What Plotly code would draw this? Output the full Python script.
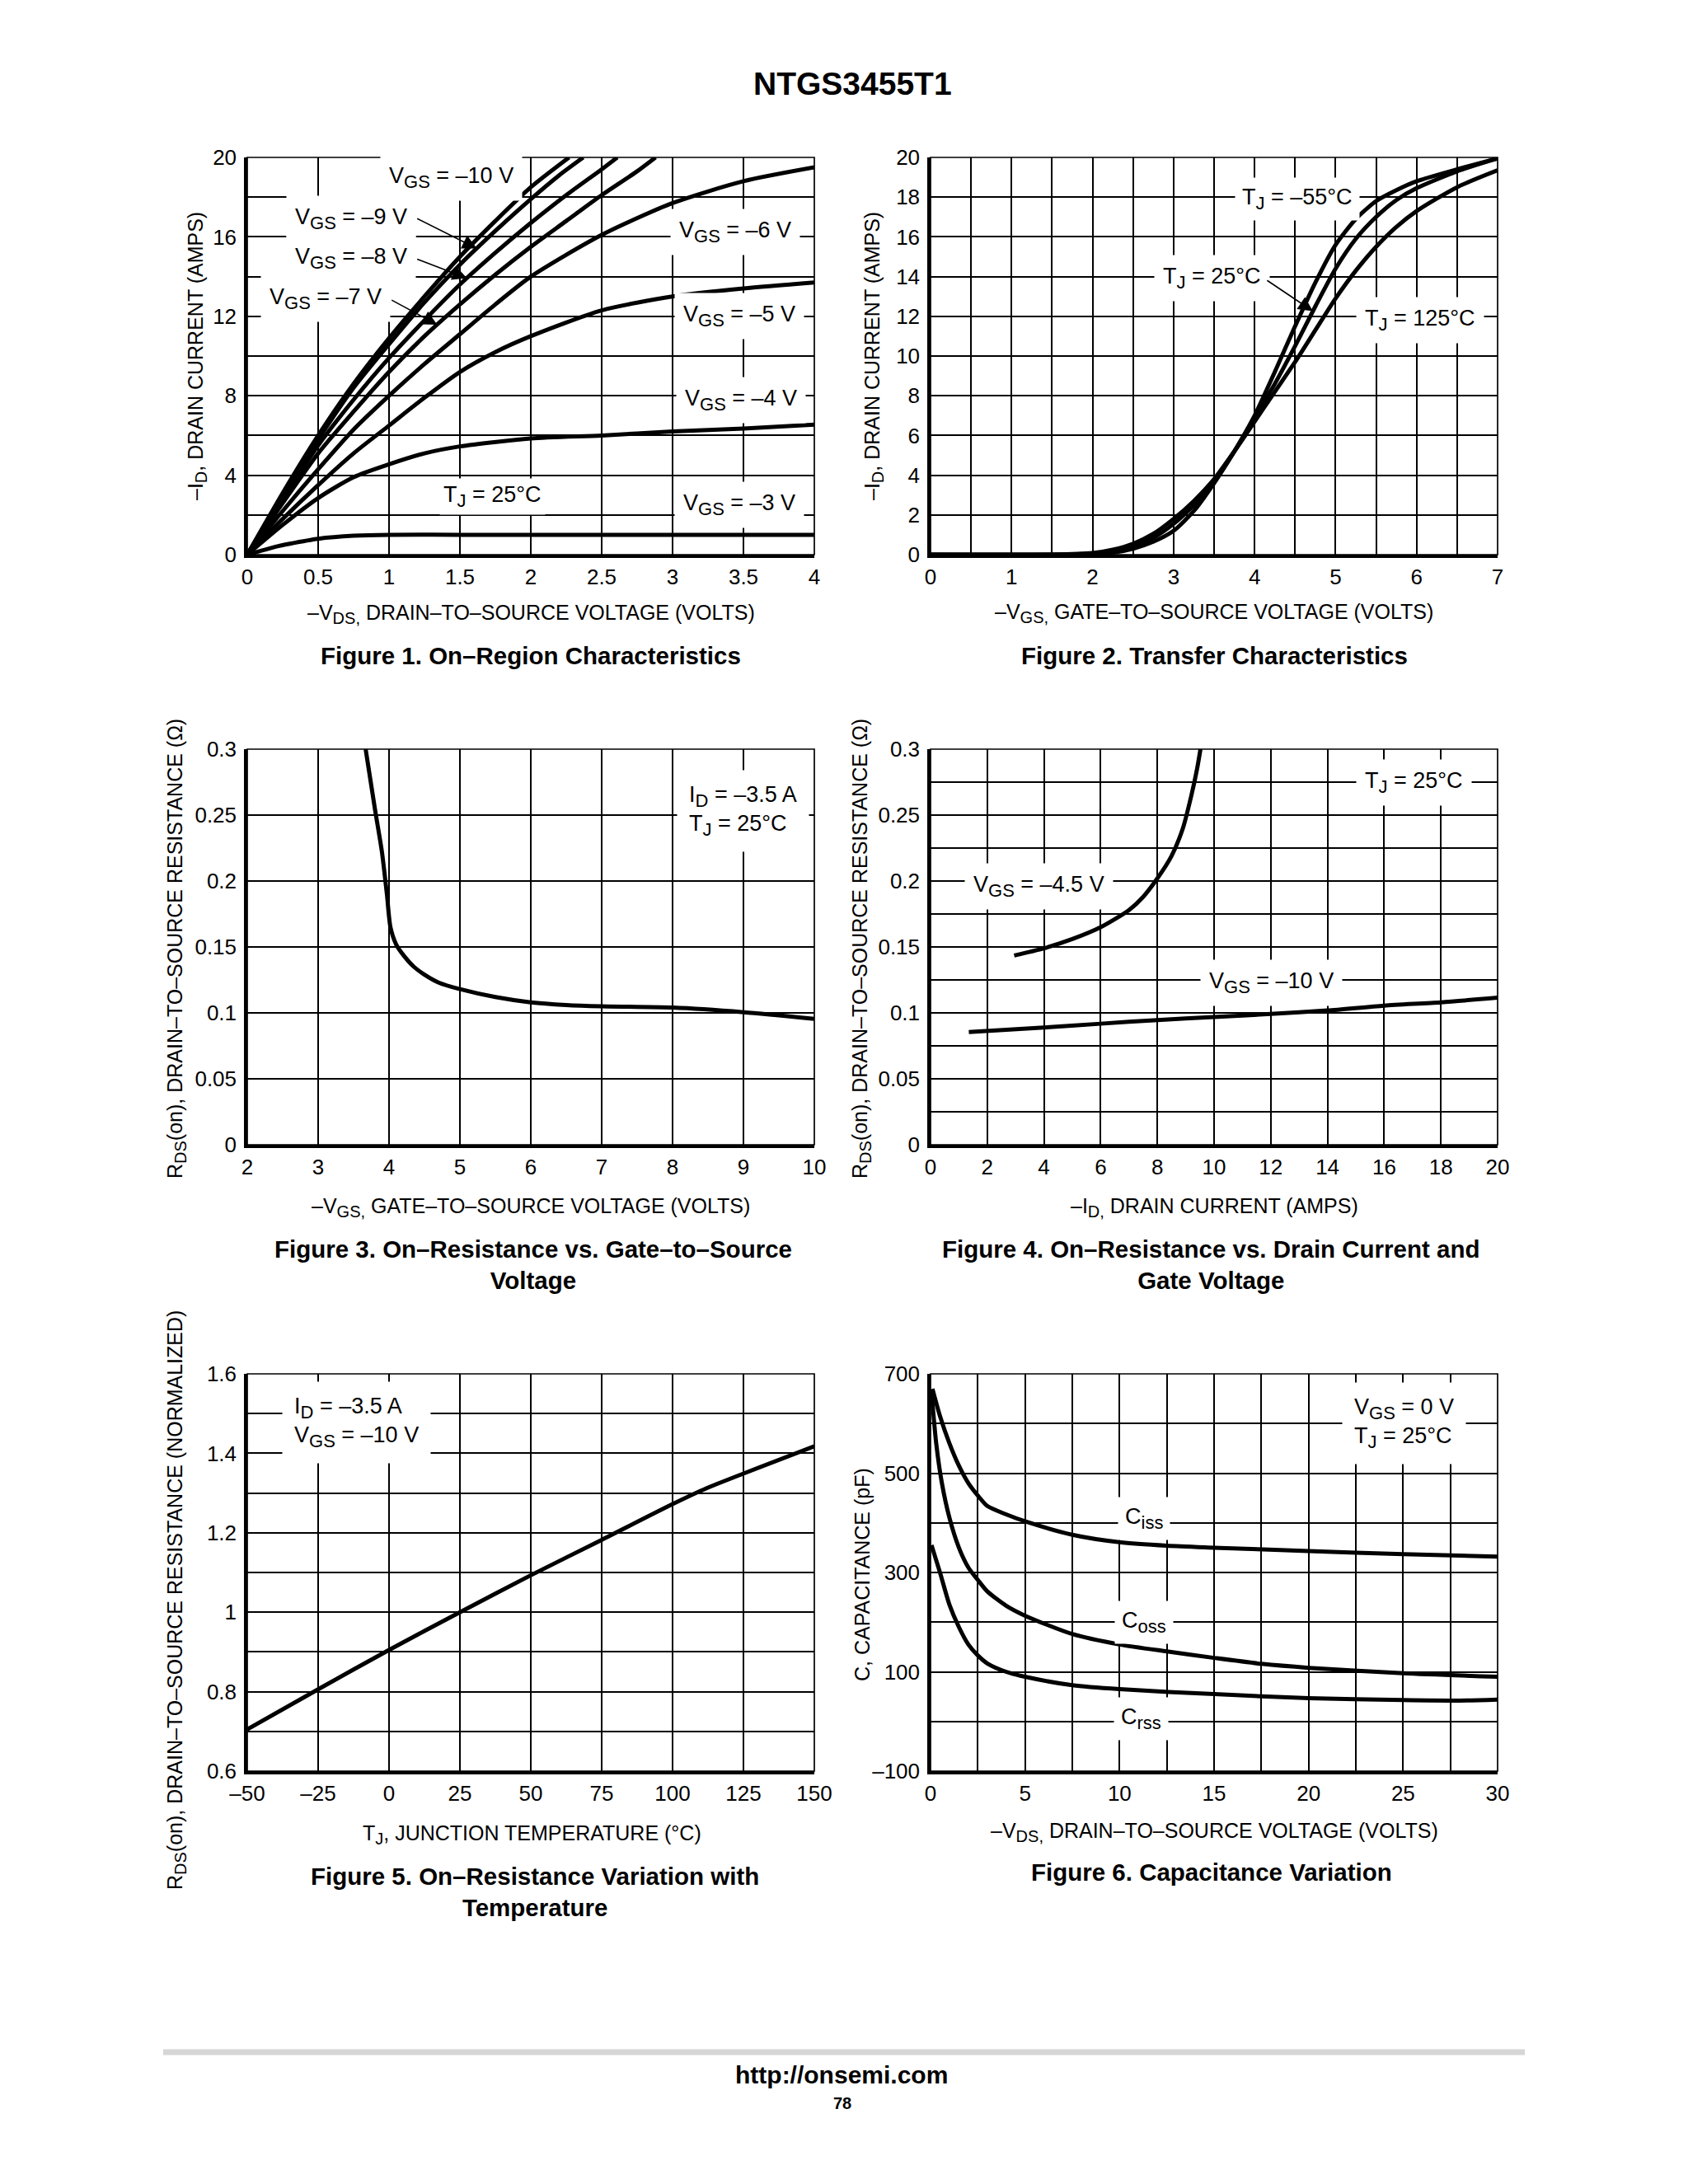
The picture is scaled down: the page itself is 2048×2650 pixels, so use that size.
import numpy as np
import plotly.graph_objects as go

W, H = 2048, 2650
FONT = "Liberation Sans, Arial, Helvetica, sans-serif"

# ---------------- Figure 1: On-Region Characteristics ----------------
f1_v_10 = [0, 0.25, 0.5, 0.75, 1.0, 1.25, 1.5, 1.75, 2.0, 2.27]
f1_i_10 = [0, 3.1, 6.0, 8.6, 10.9, 13.0, 15.0, 16.8, 18.5, 20.0]
f1_v_9 = [0, 0.25, 0.5, 0.75, 1.0, 1.25, 1.5, 1.75, 2.0, 2.2, 2.37]
f1_i_9 = [0, 3.0, 5.8, 8.4, 10.6, 12.7, 14.6, 16.3, 17.9, 19.1, 20.0]
f1_v_8 = [0, 0.25, 0.5, 0.75, 1.0, 1.25, 1.5, 1.75, 2.0, 2.25, 2.5, 2.61]
f1_i_8 = [0, 2.8, 5.5, 7.8, 9.9, 11.8, 13.6, 15.2, 16.7, 18.1, 19.4, 20.0]
f1_v_7 = [0, 0.25, 0.5, 0.75, 1.0, 1.25, 1.5, 1.75, 2.0, 2.25, 2.5, 2.75, 2.88]
f1_i_7 = [0, 2.6, 5.1, 7.2, 9.2, 11.0, 12.6, 14.1, 15.5, 16.8, 18.1, 19.3, 20.0]
f1_v_6 = [0, 0.25, 0.5, 0.75, 1.0, 1.25, 1.5, 1.75, 2.0, 2.5, 3.0, 3.5, 4.0]
f1_i_6 = [0, 2.2, 4.3, 6.3, 8.0, 9.6, 11.1, 12.6, 14.0, 16.1, 17.7, 18.8, 19.5]
f1_v_5 = [0, 0.25, 0.5, 0.75, 1.0, 1.25, 1.5, 1.75, 2.0, 2.5, 3.0, 3.5, 4.0]
f1_i_5 = [0, 1.8, 3.5, 5.1, 6.5, 7.9, 9.2, 10.2, 11.0, 12.3, 13.0, 13.4, 13.7]
f1_v_4 = [0, 0.25, 0.5, 0.75, 1.0, 1.25, 1.5, 2.0, 2.5, 3.0, 3.5, 4.0]
f1_i_4 = [0, 1.5, 2.85, 3.9, 4.55, 5.1, 5.45, 5.85, 6.0, 6.2, 6.35, 6.55]
f1_v_3 = [0, 0.1, 0.2, 0.3, 0.5, 0.75, 1.0, 1.5, 4.0]
f1_i_3 = [0, 0.2, 0.4, 0.55, 0.8, 0.95, 1.0, 1.0, 1.0]
f1_xtickvals = [0, 0.5, 1, 1.5, 2, 2.5, 3, 3.5, 4]
f1_xticktext = ["0", "0.5", "1", "1.5", "2", "2.5", "3", "3.5", "4"]
f1_ytickvals = [0, 2, 4, 6, 8, 10, 12, 14, 16, 18, 20]
f1_yticktext = ["0", "", "4", "", "8", "", "12", "", "16", "", "20"]

# ---------------- Figure 2: Transfer Characteristics ----------------
f2_vgs = [0, 1.5, 2.0, 2.25, 2.5, 2.75, 3.0, 3.25, 3.5, 3.75, 4.0, 4.25, 4.5,
          4.75, 5.0, 5.25, 5.5, 5.75, 6.0, 6.5, 7.0]
f2_id_m55 = [0, 0, 0.02, 0.1, 0.3, 0.65, 1.2, 2.2, 3.6, 5.2, 7.0, 9.2, 11.5,
             13.7, 15.6, 16.9, 17.8, 18.35, 18.8, 19.4, 19.95]
f2_id_25 = [0, 0, 0.05, 0.15, 0.4, 0.85, 1.55, 2.5, 3.7, 5.2, 6.9, 8.6, 10.5,
            12.5, 14.4, 15.9, 17.0, 17.85, 18.45, 19.3, 19.95]
f2_id_125 = [0, 0, 0.08, 0.25, 0.55, 1.05, 1.8, 2.7, 3.8, 5.2, 6.7, 8.2, 9.7,
             11.3, 12.9, 14.3, 15.5, 16.5, 17.3, 18.5, 19.35]
f2_xtickvals = [0, 0.5, 1, 1.5, 2, 2.5, 3, 3.5, 4, 4.5, 5, 5.5, 6, 6.5, 7]
f2_xticktext = ["0", "", "1", "", "2", "", "3", "", "4", "", "5", "", "6", "", "7"]
f2_ytickvals = [0, 2, 4, 6, 8, 10, 12, 14, 16, 18, 20]
f2_yticktext = ["0", "2", "4", "6", "8", "10", "12", "14", "16", "18", "20"]

# ---------------- Figure 3: On-Resistance vs Gate-to-Source Voltage ----------------
f3_vgs = [3.67, 3.8, 3.9, 3.97, 4.02, 4.1, 4.2, 4.35, 4.5, 4.7, 5.0, 5.5, 6.0,
          6.5, 7.0, 8.0, 9.0, 10.0]
f3_rds = [0.3, 0.255, 0.222, 0.19, 0.165, 0.152, 0.144, 0.135, 0.129, 0.123,
          0.118, 0.112, 0.108, 0.106, 0.105, 0.104, 0.1005, 0.0955]
f3_xtickvals = [2, 3, 4, 5, 6, 7, 8, 9, 10]
f3_xticktext = ["2", "3", "4", "5", "6", "7", "8", "9", "10"]
f3_ytickvals = [0, 0.05, 0.1, 0.15, 0.2, 0.25, 0.3]
f3_yticktext = ["0", "0.05", "0.1", "0.15", "0.2", "0.25", "0.3"]

# ---------------- Figure 4: On-Resistance vs Drain Current ----------------
f4_id_45 = [2.95, 4, 5, 6, 7, 7.5, 8, 8.5, 8.9, 9.2, 9.4, 9.52]
f4_r_45 = [0.1435, 0.149, 0.156, 0.165, 0.178, 0.188, 0.202, 0.219, 0.24,
           0.265, 0.285, 0.3]
f4_id_10 = [1.35, 4, 6, 8, 10, 12, 14, 16, 18, 20]
f4_r_10 = [0.0855, 0.0889, 0.0918, 0.0946, 0.0968, 0.0992, 0.1018, 0.1055,
           0.108, 0.1115]
f4_xtickvals = [0, 2, 4, 6, 8, 10, 12, 14, 16, 18, 20]
f4_xticktext = ["0", "2", "4", "6", "8", "10", "12", "14", "16", "18", "20"]
f4_ytickvals = [0, 0.025, 0.05, 0.075, 0.1, 0.125, 0.15, 0.175, 0.2, 0.225,
                0.25, 0.275, 0.3]
f4_yticktext = ["0", "", "0.05", "", "0.1", "", "0.15", "", "0.2", "", "0.25",
                "", "0.3"]

# ---------------- Figure 5: On-Resistance vs Temperature ----------------
f5_tj = [-50, -25, 0, 25, 50, 75, 100, 112, 125, 150]
f5_rn = [0.705, 0.806, 0.905, 1.0, 1.093, 1.182, 1.272, 1.312, 1.349, 1.418]
f5_xtickvals = [-50, -25, 0, 25, 50, 75, 100, 125, 150]
f5_xticktext = ["–50", "–25", "0", "25", "50", "75", "100", "125", "150"]
f5_ytickvals = [0.6, 0.7, 0.8, 0.9, 1.0, 1.1, 1.2, 1.3, 1.4, 1.5, 1.6]
f5_yticktext = ["0.6", "", "0.8", "", "1", "", "1.2", "", "1.4", "", "1.6"]

# ---------------- Figure 6: Capacitance Variation ----------------
f6_v_ciss = [0.1, 0.5, 1, 1.5, 2, 2.5, 3, 4, 5, 7.5, 10, 12.5, 15, 20, 25, 30]
f6_ciss = [670, 615, 560, 515, 480, 455, 434, 417, 403, 376, 361, 354, 350,
           343, 337, 332]
f6_v_coss = [0.05, 0.3, 0.6, 1, 1.5, 2, 2.5, 3, 4, 5, 7.5, 10, 12.5, 15, 17.5,
             20, 25, 30]
f6_coss = [665, 560, 480, 410, 350, 310, 285, 262, 233, 213, 176, 155, 141,
           128, 116, 108, 97, 90]
f6_v_crss = [0.05, 0.5, 1, 1.5, 2, 2.5, 3, 4, 5, 7.5, 10, 15, 20, 25, 28, 30]
f6_crss = [355, 300, 235, 190, 155, 133, 117, 100, 90, 73, 65, 55, 47, 43, 42,
           44]
f6_xtickvals = [0, 2.5, 5, 7.5, 10, 12.5, 15, 17.5, 20, 22.5, 25, 27.5, 30]
f6_xticktext = ["0", "", "5", "", "10", "", "15", "", "20", "", "25", "", "30"]
f6_ytickvals = [-100, 0, 100, 200, 300, 400, 500, 600, 700]
f6_yticktext = ["–100", "", "100", "", "300", "", "500", "", "700"]

# ---------------- layout geometry (pixels) ----------------
COLS = [(300, 988), (1129, 1817)]
ROWS = [(191, 673), (909, 1389), (1667, 2149)]


def px(x):
    return x / W


def py(y):
    return 1 - y / H


def sub(s, size):
    return f"<sub><span style='font-size:{size}px'>{s}</span></sub>"


LS, LSUB = 27, 22      # in-plot labels / their subscripts
AT, ATSUB = 25, 20     # axis titles / their subscripts

fig = go.Figure()
LW = 5.0


def add_curve(x, y, n):
    fig.add_trace(go.Scatter(
        x=x, y=y, mode="lines", xaxis=f"x{n}" if n > 1 else "x",
        yaxis=f"y{n}" if n > 1 else "y",
        line=dict(color="black", width=LW, shape="spline", smoothing=0.7),
        hoverinfo="skip", showlegend=False))


for vx, iy in [(f1_v_10, f1_i_10), (f1_v_9, f1_i_9), (f1_v_8, f1_i_8),
               (f1_v_7, f1_i_7), (f1_v_6, f1_i_6), (f1_v_5, f1_i_5),
               (f1_v_4, f1_i_4), (f1_v_3, f1_i_3)]:
    add_curve(vx, iy, 1)
for iy in [f2_id_m55, f2_id_25, f2_id_125]:
    add_curve(f2_vgs, iy, 2)
add_curve(f3_vgs, f3_rds, 3)
add_curve(f4_id_45, f4_r_45, 4)
add_curve(f4_id_10, f4_r_10, 4)
add_curve(f5_tj, f5_rn, 5)
add_curve(f6_v_ciss, f6_ciss, 6)
add_curve(f6_v_coss, f6_coss, 6)
add_curve(f6_v_crss, f6_crss, 6)

axes_spec = [
    (f1_xtickvals, f1_xticktext, [0, 4], f1_ytickvals, f1_yticktext, [0, 20]),
    (f2_xtickvals, f2_xticktext, [0, 7], f2_ytickvals, f2_yticktext, [0, 20]),
    (f3_xtickvals, f3_xticktext, [2, 10], f3_ytickvals, f3_yticktext, [0, 0.3]),
    (f4_xtickvals, f4_xticktext, [0, 20], f4_ytickvals, f4_yticktext, [0, 0.3]),
    (f5_xtickvals, f5_xticktext, [-50, 150], f5_ytickvals, f5_yticktext, [0.6, 1.6]),
    (f6_xtickvals, f6_xticktext, [0, 30], f6_ytickvals, f6_yticktext, [-100, 700]),
]

layout_axes = {}
shapes = []
for k, (xtv, xtt, xr, ytv, ytt, yr) in enumerate(axes_spec):
    n = k + 1
    c = COLS[k % 2]
    r = ROWS[k // 2]
    common = dict(showgrid=True, gridcolor="black", gridwidth=1.7,
                  zeroline=False, showline=True, linecolor="black",
                  linewidth=3.5, ticks="", fixedrange=True, automargin=False,
                  tickfont=dict(family=FONT, size=26, color="black"))
    xname = "xaxis" if n == 1 else f"xaxis{n}"
    yname = "yaxis" if n == 1 else f"yaxis{n}"
    layout_axes[xname] = dict(common, domain=[px(c[0]), px(c[1])], range=xr,
                              tickvals=xtv, ticktext=xtt,
                              anchor="y" if n == 1 else f"y{n}",
                              ticklabelstandoff=1)
    layout_axes[yname] = dict(common, domain=[py(r[1]), py(r[0])], range=yr,
                              tickvals=ytv, ticktext=ytt,
                              anchor="x" if n == 1 else f"x{n}",
                              ticklabelstandoff=4)
    xr_ = "x" if n == 1 else f"x{n}"
    yr_ = "y" if n == 1 else f"y{n}"
    shapes.append(dict(type="rect", xref=f"{xr_} domain", yref=f"{yr_} domain",
                       x0=0, x1=1, y0=0, y1=1,
                       line=dict(color="black", width=1.7), layer="above"))

# footer rule
shapes.append(dict(type="line", xref="paper", yref="paper", x0=px(198),
                   x1=px(1850), y0=py(2490), y1=py(2490),
                   line=dict(color="#d6d6d6", width=7)))

annotations = []


def label(text, x, y, n, size=LS, pad=10, align="center"):
    xr_ = "x" if n == 1 else f"x{n}"
    yr_ = "y" if n == 1 else f"y{n}"
    annotations.append(dict(text=text, x=x, y=y, xref=xr_, yref=yr_,
                            showarrow=False, bgcolor="white", borderpad=pad,
                            align=align, xanchor="center", yanchor="middle",
                            font=dict(family=FONT, size=size, color="black")))


def arrow(tx, ty, hx, hy, n):
    xr_ = "x" if n == 1 else f"x{n}"
    yr_ = "y" if n == 1 else f"y{n}"
    annotations.append(dict(text="", x=hx, y=hy, xref=xr_, yref=yr_,
                            ax=tx, ay=ty, axref=xr_, ayref=yr_,
                            showarrow=True, arrowhead=2, arrowsize=2.2,
                            arrowwidth=1.6, arrowcolor="black", standoff=0,
                            startstandoff=0))


def ptext(text, x, y, size, angle=0):
    annotations.append(dict(text=text, x=px(x), y=py(y), xref="paper",
                            yref="paper", showarrow=False, textangle=angle,
                            xanchor="center", yanchor="middle",
                            font=dict(family=FONT, size=size, color="black")))


VGS = "V" + sub("GS", LSUB)
TJ = "T" + sub("J", LSUB)
ID = "I" + sub("D", LSUB)

# Figure 1 labels
label(f"{VGS} = –10 V", 1.44, 19.0, 1)
label(f"{VGS} = –9 V", 0.73, 16.9, 1)
label(f"{VGS} = –8 V", 0.73, 14.9, 1)
label(f"{VGS} = –7 V", 0.55, 12.9, 1)
label(f"{VGS} = –6 V", 3.44, 16.25, 1)
label(f"{VGS} = –5 V", 3.47, 12.0, 1)
label(f"{VGS} = –4 V", 3.48, 7.8, 1)
label(f"{VGS} = –3 V", 3.47, 2.5, 1)
label(f"{TJ} = 25°C", 1.73, 2.93, 1, pad=4)
arrow(1.19, 16.95, 1.62, float(np.interp(1.62, f1_v_9, f1_i_9)), 1)
arrow(1.19, 14.9, 1.55, float(np.interp(1.55, f1_v_8, f1_i_8)), 1)
arrow(1.01, 12.85, 1.34, float(np.interp(1.34, f1_v_7, f1_i_7)), 1)

# Figure 2 labels
label(f"{TJ} = –55°C", 4.53, 17.9, 2, pad=8)
label(f"{TJ} = 25°C", 3.47, 13.94, 2)
label(f"{TJ} = 125°C", 6.04, 11.8, 2)
arrow(4.14, 13.85, 4.72, float(np.interp(4.72, f2_vgs, f2_id_25)), 2)

# Figure 3 label
label(f"{ID} = –3.5 A<br>{TJ} = 25°C", 8.99, 0.253, 3, pad=14, align="left")

# Figure 4 labels
label(f"{TJ} = 25°C", 17.05, 0.2748, 4)
label(f"{VGS} = –4.5 V", 3.83, 0.196, 4)
label(f"{VGS} = –10 V", 12.03, 0.123, 4)

# Figure 5 label
label(f"{ID} = –3.5 A<br>{VGS} = –10 V", -11.4, 1.477, 5, pad=14,
      align="left")

# Figure 6 labels
label("C" + sub("iss", LSUB), 11.28, 408, 6, pad=8)
label("C" + sub("oss", LSUB), 11.28, 199, 6, pad=8)
label("C" + sub("rss", LSUB), 11.16, 6, 6, pad=8)
label(f"{VGS} = 0 V<br>{TJ} = 25°C", 25.03, 600, 6, pad=14, align="left")

# axis titles
ptext("–V" + sub("DS,", ATSUB) + " DRAIN–TO–SOURCE VOLTAGE (VOLTS)", 644, 745, AT)
ptext("–V" + sub("GS,", ATSUB) + " GATE–TO–SOURCE VOLTAGE (VOLTS)", 1473, 744, AT)
ptext("–V" + sub("GS,", ATSUB) + " GATE–TO–SOURCE VOLTAGE (VOLTS)", 644, 1465, AT)
ptext("–I" + sub("D,", ATSUB) + " DRAIN CURRENT (AMPS)", 1473, 1465, AT)
ptext("T" + sub("J", ATSUB) + ", JUNCTION TEMPERATURE (°C)", 645, 2226, AT)
ptext("–V" + sub("DS,", ATSUB) + " DRAIN–TO–SOURCE VOLTAGE (VOLTS)", 1473, 2223, AT)

ptext("–I" + sub("D", ATSUB) + ", DRAIN CURRENT (AMPS)", 239, 432, AT, -90)
ptext("–I" + sub("D", ATSUB) + ", DRAIN CURRENT (AMPS)", 1060, 432, AT, -90)
ptext("R" + sub("DS", ATSUB) + "(on), DRAIN–TO–SOURCE RESISTANCE (Ω)", 214,
      1151, AT, -90)
ptext("R" + sub("DS", ATSUB) + "(on), DRAIN–TO–SOURCE RESISTANCE (Ω)", 1045,
      1151, AT, -90)
ptext("R" + sub("DS", ATSUB) + "(on), DRAIN–TO–SOURCE RESISTANCE (NORMALIZED)",
      214, 1942, AT, -90)
ptext("C, CAPACITANCE (pF)", 1046, 1911, AT, -90)

# captions
CS = 29.5
ptext("<b>Figure 1. On–Region Characteristics</b>", 644, 795, CS)
ptext("<b>Figure 2. Transfer Characteristics</b>", 1473, 795, CS)
ptext("<b>Figure 3. On–Resistance vs. Gate–to–Source<br>Voltage</b>", 647,
      1534, CS)
ptext("<b>Figure 4. On–Resistance vs. Drain Current and<br>Gate Voltage</b>",
      1469, 1534, CS)
ptext("<b>Figure 5. On–Resistance Variation with<br>Temperature</b>", 649,
      2295, CS)
ptext("<b>Figure 6. Capacitance Variation</b>", 1470, 2271, CS)

# page title and footer
ptext("<b>NTGS3455T1</b>", 1034, 101, 39)
ptext("<b>http://onsemi.com</b>", 1021, 2517, 30)
ptext("<b>78</b>", 1022, 2552, 20)

fig.update_layout(width=W, height=H, margin=dict(l=0, r=0, t=0, b=0, pad=0),
                  paper_bgcolor="white", plot_bgcolor="white",
                  showlegend=False, shapes=shapes, annotations=annotations,
                  font=dict(family=FONT, color="black"), **layout_axes)

fig.write_html(
    "out.html",
    config={"displayModeBar": False, "responsive": False},
    post_script=("document.body.style.margin='0px';"
                 "document.body.style.padding='0px';"
                 "document.documentElement.style.overflow='hidden';"),
)
